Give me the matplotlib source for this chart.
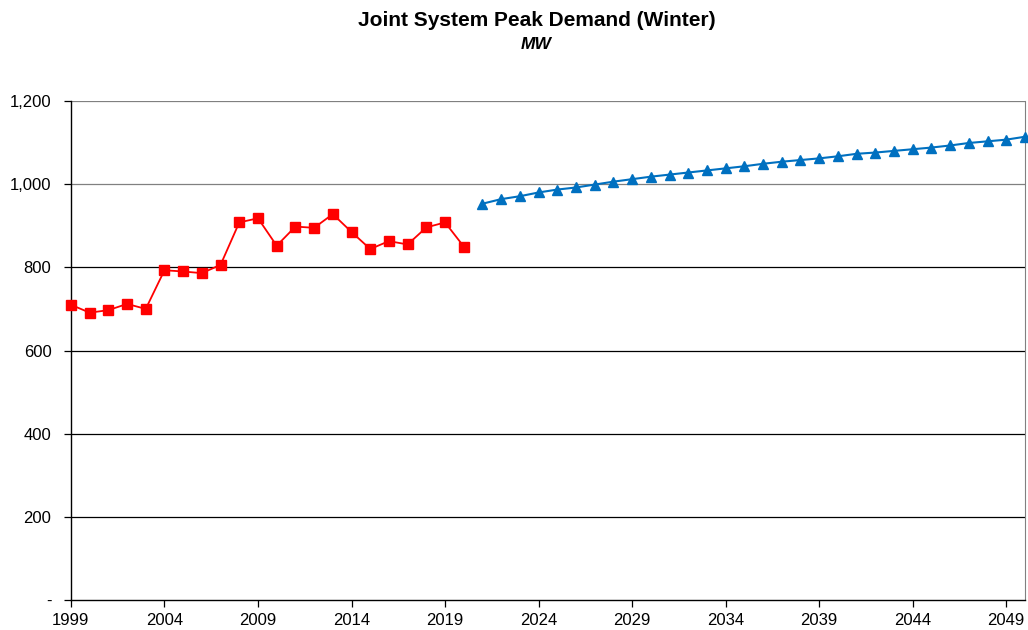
import numpy as np
import matplotlib.pyplot as plt
from matplotlib.ticker import FuncFormatter

plt.rcParams['font.family'] = ['Liberation Sans', 'DejaVu Sans']

# historic winter peak (MW)
hist_years = list(range(1999, 2021))
hist_mw = [710, 691, 697, 712, 700, 793, 790, 786, 806, 908, 918, 852,
           898, 895, 928, 885, 844, 863, 855, 896, 908, 850]

# forecast (MW)
fc_years = list(range(2021, 2051))
fc_mw = [953, 964, 971, 980, 987, 992, 999, 1006, 1012, 1018, 1023, 1028,
         1033, 1038, 1043, 1049, 1054, 1058, 1062, 1067, 1073, 1076, 1080,
         1084, 1088, 1093, 1099, 1103, 1107, 1114]

x_ticks = list(range(1999, 2050, 5))
y_ticks = [0, 200, 400, 600, 800, 1000, 1200]

fig = plt.figure(figsize=(10.28, 6.3), dpi=100)
ax = fig.add_axes([0.069, 0.0476, 0.928, 0.7921])

# gridlines
for v in y_ticks[1:]:
    col = '#808080' if v >= 1000 else '#000000'
    ax.axhline(v, color=col, lw=0.9, zorder=1)

ax.plot(hist_years, hist_mw, color='#ff0000', lw=1.3, marker='s', ms=7,
        markeredgecolor='#ff0000', zorder=3, clip_on=False)
ax.plot(fc_years, fc_mw, color='#0070c0', lw=1.5, marker='^', ms=7.5,
        markeredgecolor='#0070c0', zorder=3, clip_on=False)

ax.set_xlim(1999, 2050)
ax.set_ylim(0, 1200)
ax.set_xticks(x_ticks)
ax.set_yticks(y_ticks)
ax.yaxis.set_major_formatter(FuncFormatter(lambda v, p: '-' if v == 0 else f'{v:,.0f}'))
ax.tick_params(axis='both', labelsize=12, length=5, width=0.9, colors='black', pad=4)
ax.tick_params(axis='y', pad=9)

for s in ['left', 'bottom']:
    ax.spines[s].set_color('black')
    ax.spines[s].set_linewidth(1.0)
ax.spines['right'].set_color('#808080')
ax.spines['top'].set_visible(False)

fig.text(0.522, 0.967, 'Joint System Peak Demand (Winter)', ha='center', va='center',
         fontsize=15, fontweight='bold')
fig.text(0.522, 0.929, 'MW', ha='center', va='center', fontsize=12.5,
         fontweight='bold', fontstyle='italic')

fig.savefig('out.png', dpi=100)
